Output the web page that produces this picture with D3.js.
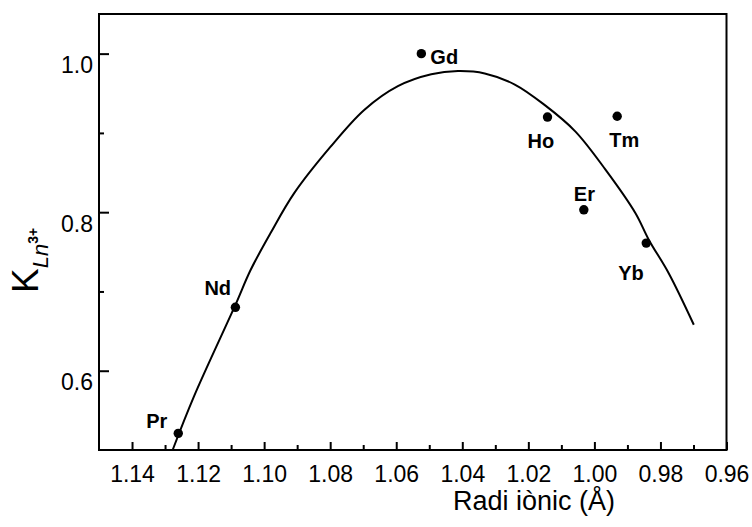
<!DOCTYPE html>
<html>
<head>
<meta charset="utf-8">
<script src="https://cdn.jsdelivr.net/npm/d3@7/dist/d3.min.js"></script>
<style>
  html, body { margin: 0; padding: 0; background: #fff; }
  svg { display: block; }
  text { font-family: "Liberation Sans", Arial, Helvetica, sans-serif; fill: #000; }
</style>
</head>
<body>
<svg id="chart" width="752" height="527"></svg>
<script>
// ---- data ----
const elements = ["Pr", "Nd", "Gd", "Ho", "Er", "Tm", "Yb"];
const ionicRadius = [1.126, 1.1087, 1.0524, 1.0142, 1.0032, 0.9931, 0.9843];
const kValues = [0.521, 0.680, 1.000, 0.920, 0.803, 0.921, 0.761];

// fitted curve
const curveRadius = [1.1277, 1.1213, 1.1087, 1.1041, 1.0980, 1.0909, 1.0800, 1.0697, 1.0595, 1.0494, 1.0413, 1.0332, 1.0241, 1.0150, 1.0058, 0.9967, 0.9876, 0.9835, 0.9775, 0.9699];
const curveK      = [0.500, 0.567, 0.683, 0.727, 0.774, 0.824, 0.882, 0.929, 0.959, 0.974, 0.978, 0.975, 0.961, 0.935, 0.902, 0.854, 0.799, 0.765, 0.723, 0.658];

const xMajorTicks = [1.14, 1.12, 1.10, 1.08, 1.06, 1.04, 1.02, 1.00, 0.98, 0.96];
const xMinorTicks = [1.13, 1.11, 1.09, 1.07, 1.05, 1.03, 1.01, 0.99, 0.97];
const yMajorTicks = [0.6, 0.8, 1.0];
const yMinorTicks = [0.7, 0.9];

const xTitle = "Radi iònic (Å)";

// ---- layout ----
const L = 99, R = 726.5, T = 14, B = 450;
const svg = d3.select("#chart");

const x = d3.scaleLinear().domain([1.15, 0.96]).range([L, R]);
const y = d3.scaleLinear().domain([0.5, 1.05]).range([B, T]);

// label offsets (relative to the point)
const labelOffset = {
  Pr: [-32, -5], Nd: [-31, -12], Gd: [9, 10], Ho: [-20, 31],
  Er: [-10, -9], Tm: [-8, 31], Yb: [-28, 37]
};

// axes
const xAxisMajor = d3.axisBottom(x).tickValues(xMajorTicks)
  .tickFormat(d3.format(".2f")).tickSizeInner(-8).tickSizeOuter(0).tickPadding(16);
const xAxisMinor = d3.axisBottom(x).tickValues(xMinorTicks)
  .tickFormat("").tickSizeInner(-5).tickSizeOuter(0);
const yAxisMajor = d3.axisLeft(y).tickValues(yMajorTicks)
  .tickFormat(d3.format(".1f")).tickSizeInner(-10).tickSizeOuter(0).tickPadding(6);
const yAxisMinor = d3.axisLeft(y).tickValues(yMinorTicks)
  .tickFormat("").tickSizeInner(-5).tickSizeOuter(0);

function styleAxis(g) {
  g.select(".domain").remove();
  g.attr("font-size", 23);
  g.selectAll(".tick line").attr("stroke", "#000").attr("stroke-width", 2);
  g.selectAll(".tick text").attr("font-size", 23)
    .style("font-family", '"Liberation Sans", Arial, sans-serif').attr("fill", "#000");
}

svg.append("g").attr("transform", `translate(0,${B})`).call(xAxisMinor).call(styleAxis);
svg.append("g").attr("transform", `translate(0,${B})`).call(xAxisMajor).call(styleAxis);
svg.append("g").attr("transform", `translate(${L},0)`).call(yAxisMinor).call(styleAxis);
const ya = svg.append("g").attr("transform", `translate(${L},0)`).call(yAxisMajor).call(styleAxis);
ya.selectAll(".tick text").attr("dy", "0.82em");

// frame
svg.append("rect")
  .attr("x", x(1.15)).attr("y", y(1.05))
  .attr("width", x(0.96) - x(1.15)).attr("height", y(0.5) - y(1.05))
  .attr("fill", "none").attr("stroke", "#000").attr("stroke-width", 2);

// curve
const curveData = curveRadius.map((r, i) => [r, curveK[i]]);
svg.append("path")
  .datum(curveData)
  .attr("d", d3.line().x(d => x(d[0])).y(d => y(d[1])).curve(d3.curveCatmullRom))
  .attr("fill", "none").attr("stroke", "#000").attr("stroke-width", 2);

// points
const pts = elements.map((e, i) => ({ e, r: ionicRadius[i], k: kValues[i] }));
svg.selectAll("circle.pt").data(pts).join("circle")
  .attr("class", "pt")
  .attr("cx", d => x(d.r)).attr("cy", d => y(d.k)).attr("r", 4.7)
  .attr("fill", "#000");

svg.selectAll("text.lbl").data(pts).join("text")
  .attr("class", "lbl")
  .attr("x", d => x(d.r) + labelOffset[d.e][0])
  .attr("y", d => y(d.k) + labelOffset[d.e][1])
  .attr("font-size", 20).attr("font-weight", "bold")
  .text(d => d.e);

// x title
svg.append("text")
  .attr("x", 534).attr("y", 510)
  .attr("text-anchor", "middle").attr("font-size", 27)
  .text(xTitle);

// y title: K with subscript Ln and superscript 3+
const yt = svg.append("text")
  .attr("transform", "translate(38,293) rotate(-90)");
yt.append("tspan").attr("font-size", 37).text("K");
yt.append("tspan").attr("font-size", 22).attr("font-style", "italic").attr("dy", 10).text("Ln");
yt.append("tspan").attr("font-size", 14).attr("font-weight", "bold").attr("dy", -10).text("3+");
</script>
</body>
</html>
